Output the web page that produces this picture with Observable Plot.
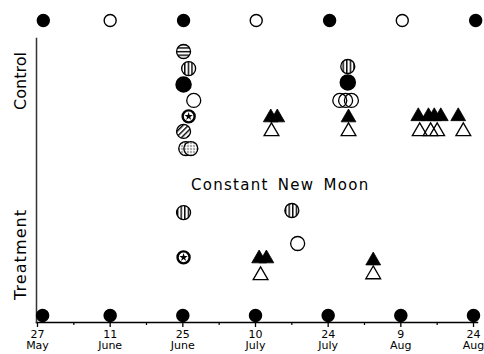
<!DOCTYPE html>
<html><head><meta charset="utf-8">
<script src="https://cdn.jsdelivr.net/npm/d3@7"></script>
<script src="https://cdn.jsdelivr.net/npm/@observablehq/plot@0.6"></script>
<style>body{margin:0;background:#fff} #chart svg{display:block}</style>
</head><body><div id="chart"></div>
<script>
// Lunar phase index on the x axis (0 = 27 May ... 6 = 24 Aug)
const phaseIdx = [0, 1, 2, 3, 4, 5, 6];
const tickLabels = ["27\nMay", "11\nJune", "25\nJune", "10\nJuly", "24\nJuly", "9\nAug", "24\nAug"];
const minorIdx = [0.5, 1.5, 2.5, 3.5, 4.5, 5.5];

// Moon rows (top = natural moon, bottom = constant new moon)
const topMoonX = [0.08, 1, 2.01, 3.01, 4.02, 5.02, 6.03];
const topMoonPhase = ["new", "full", "new", "full", "new", "full", "new"];
const bottomMoonX = [0.07, 1, 2, 3, 4, 5, 6];
const topLevel = 100, bottomLevel = 0;

// Observations: type, phase position, level
const obsType = [
  // Control
  "hstripe","vstripe","filled","open","star","diag","dotted","dotted",
  "tri","tri","otri",
  "vstripe","filled","open","open","open","tri","otri",
  "tri","tri","tri","tri","tri","otri","otri","otri","otri",
  // Treatment
  "vstripe","vstripe","open","star","tri","tri","otri","tri","otri"
];
const obsX = [
  2.01, 2.08, 2.01, 2.15, 2.08, 2.01, 2.04, 2.11,
  3.21, 3.30, 3.22,
  4.27, 4.27, 4.16, 4.24, 4.32, 4.28, 4.28,
  5.24, 5.38, 5.46, 5.55, 5.79, 5.26, 5.41, 5.50, 5.86,
  2.01, 3.50, 3.58, 2.01, 3.05, 3.15, 3.07, 4.62, 4.62
];
const obsY = [
  89.5, 83.7, 78.3, 72.9, 67.5, 62.4, 56.6, 56.6,
  67.1, 67.1, 62.4,
  84.4, 79.0, 72.9, 72.9, 72.9, 67.1, 62.4,
  67.5, 67.5, 67.5, 67.5, 67.5, 62.4, 62.4, 62.4, 62.4,
  34.9, 35.6, 24.4, 19.7, 19.3, 19.3, 13.6, 18.6, 13.9
];

const groupNames = ["Control", "Treatment"];
const groupLevels = [79.5, 20.7];
const noteText = ["Constant New Moon"];
const noteX = [3.34], noteY = [44.1];

const obs = obsType.map((t, i) => ({type: t, x: obsX[i], y: obsY[i]}));
const sel = t => obs.filter(d => d.type === t);
const topMoons = topMoonX.map((x, i) => ({x, y: topLevel, phase: topMoonPhase[i]}));
const bottomMoons = bottomMoonX.map(x => ({x, y: bottomLevel}));
const groups = groupNames.map((g, i) => ({g, y: groupLevels[i]}));
const notes = noteText.map((t, i) => ({t, x: noteX[i], y: noteY[i]}));

const font = "DejaVu Sans";
const chart = Plot.plot({
  width: 484, height: 354,
  marginLeft: 36, marginRight: 7, marginTop: 38, marginBottom: 32,
  style: {fontFamily: font, background: "white", color: "black"},
  x: {type: "linear", domain: [0, 6], range: [37, 473], axis: null},
  y: {domain: [0, 100], range: [315, 20], axis: null},
  marks: [
    Plot.frame({anchor: "bottom", stroke: "black", strokeWidth: 1.5}),
    Plot.frame({anchor: "left", stroke: "#333", strokeWidth: 1.5}),
    Plot.axisX({ticks: phaseIdx, tickSize: 5, tickPadding: 2, tickFormat: i => tickLabels[i], label: null,
      fontSize: 11, lineHeight: 1.05, strokeWidth: 1.3, fill: "black"}),
    Plot.axisX({ticks: minorIdx, tickSize: 3, tickFormat: () => "", label: null, strokeWidth: 1.2}),
    // moon rows
    Plot.dot(topMoons, {x: "x", y: "y", r: 6, fill: d => d.phase === "new" ? "black" : "white", stroke: "black", strokeWidth: 1.4}),
    Plot.dot(bottomMoons, {x: "x", y: "y", r: 6, fill: "black", stroke: "black"}),
    // observations
    Plot.dot(sel("hstripe"), {x: "x", y: "y", r: 7, fill: "url(#ph)", stroke: "black", strokeWidth: 1.3}),
    Plot.dot(sel("vstripe"), {x: "x", y: "y", r: 7, fill: "url(#pv)", stroke: "black", strokeWidth: 1.3}),
    Plot.dot(sel("diag"), {x: "x", y: "y", r: 7, fill: "url(#pd)", stroke: "black", strokeWidth: 1.3}),
    Plot.dot(sel("dotted"), {x: "x", y: "y", r: 7, fill: "url(#pdot)", stroke: "black", strokeWidth: 1.3}),
    Plot.dot(sel("filled"), {x: "x", y: "y", r: 7.5, fill: "black", stroke: "black"}),
    Plot.dot(sel("open"), {x: "x", y: "y", r: 7, fill: "none", stroke: "black", strokeWidth: 1.3}),
    Plot.dot(sel("star"), {x: "x", y: "y", r: 6, fill: "white", stroke: "black", strokeWidth: 2.4}),
    Plot.dot(sel("star"), {x: "x", y: "y", r: 2.6, symbol: "star", fill: "black", stroke: "none"}),
    Plot.dot(sel("tri"), {x: "x", y: "y", r: 5.5, symbol: "triangle", fill: "black", stroke: "black", strokeWidth: 0.8}),
    Plot.dot(sel("otri"), {x: "x", y: "y", r: 5.5, symbol: "triangle", fill: "none", stroke: "black", strokeWidth: 1.3}),
    // labels
    Plot.text(groups, {y: "y", text: "g", frameAnchor: "left", dx: -16, rotate: -90, textAnchor: "middle",
      fontSize: 16, fill: "black"}),
    Plot.text(notes, {x: "x", y: "y", text: "t", fontSize: 15, fill: "black"})
  ]
});

d3.select(chart).insert("defs", ":first-child").html(`
  <pattern id="ph" patternUnits="userSpaceOnUse" width="4" height="3.6">
    <rect width="4" height="3.6" fill="white"/><rect y="0" width="4" height="1.4" fill="black"/></pattern>
  <pattern id="pv" patternUnits="userSpaceOnUse" width="3.6" height="4">
    <rect width="3.6" height="4" fill="white"/><rect x="0" width="1.4" height="4" fill="black"/></pattern>
  <pattern id="pd" patternUnits="userSpaceOnUse" width="3.8" height="4" patternTransform="rotate(45)">
    <rect width="3.8" height="4" fill="white"/><rect x="0" width="1.4" height="4" fill="black"/></pattern>
  <pattern id="pdot" patternUnits="userSpaceOnUse" width="3" height="3">
    <rect width="3" height="3" fill="white"/><circle cx="1.5" cy="1.5" r="0.7" fill="black"/></pattern>
`);
// letter spacing to match the wide typeface of the original
const allText = d3.select(chart).selectAll("text");
allText.filter(function() { return this.textContent === noteText[0]; })
  .attr("letter-spacing", "1.3px").attr("word-spacing", "3px");
allText.filter(function() { return this.textContent === "Treatment"; })
  .attr("letter-spacing", "1.1px");
document.getElementById("chart").appendChild(chart);
</script>
</body></html>
